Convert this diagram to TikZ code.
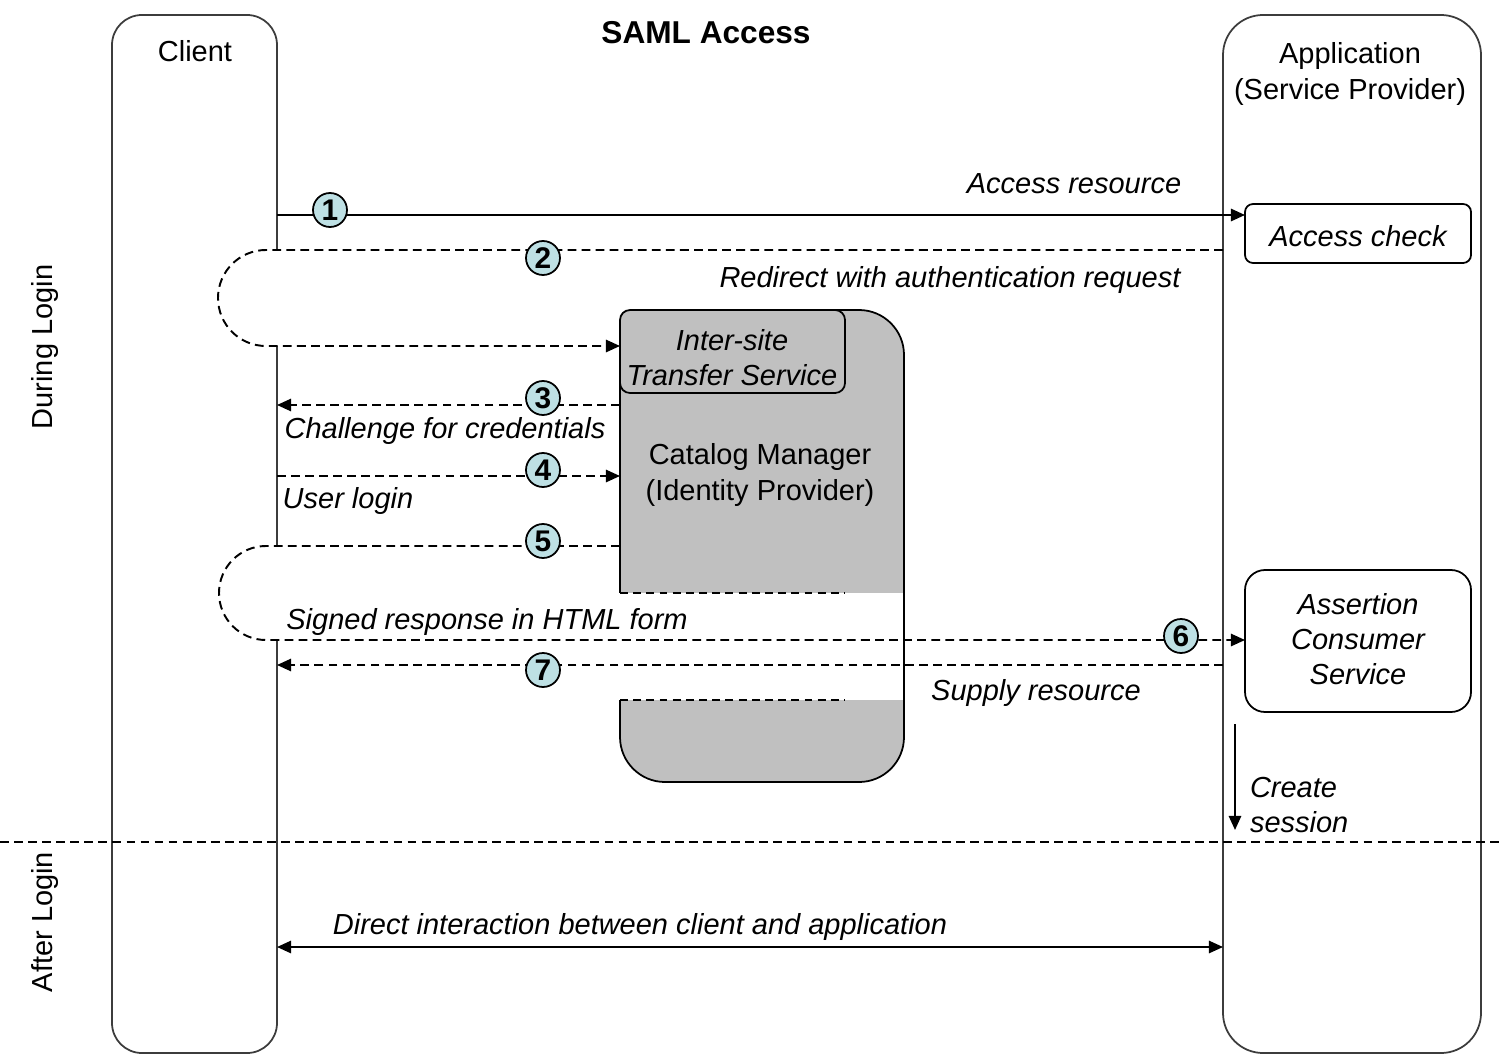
\documentclass[tikz,border=0pt]{standalone}
\usepackage{fontspec}
\setmainfont{Liberation Sans}
\usetikzlibrary{arrows.meta}

\definecolor{numfill}{RGB}{190,224,228}
\definecolor{idpgray}{RGB}{192,192,192}
\definecolor{edge}{RGB}{60,60,60}

\begin{document}
\begin{tikzpicture}[x=0.2mm,y=-0.2mm,>={Triangle[length=8pt,width=7pt]}]
\tikzstyle{every node}=[inner sep=0pt,outer sep=0pt,font=\fontsize{16.5}{20}\selectfont]
\tikzstyle{lane}=[draw=edge,line width=1pt,rectangle,minimum height=207.6mm]
\tikzstyle{proc}=[draw,line width=1pt,rectangle,minimum width=45.2mm,align=center,font=\fontsize{16.5}{20}\selectfont\itshape]
\tikzstyle{lbl}=[font=\fontsize{16.5}{20}\selectfont\itshape]
\tikzstyle{num}=[circle,draw,line width=1pt,fill=numfill,minimum size=6.8mm,font=\fontsize{17}{20}\selectfont\bfseries]
\tikzstyle{msg}=[line width=1.1pt,dash pattern=on 5pt off 3pt]
\useasboundingbox (0,0) rectangle (1500,1055);
% lifelines
\node[lane,rounded corners=6mm,minimum width=33mm](client) at (194.5,534) {};
\node[lane,rounded corners=8mm,minimum width=51.6mm](app) at (1352,534) {};
\node(clientt) at (195,51) {Client};
\node[align=center](appt) at (1350,74) {Application\\(Service Provider)};
\node[font=\fontsize{18}{20}\selectfont\bfseries](title) at (706,33) {SAML Access};
\node[rotate=90](during) at (45,347) {During Login};
\node[rotate=90](after) at (45,922) {After Login};
% identity provider
\node[draw,line width=1pt,fill=idpgray,rounded corners=9mm,minimum width=56.8mm,minimum height=94.4mm](idp) at (762,546) {};
\node[proc,fill=idpgray,rounded corners=2mm,minimum width=45mm,minimum height=16.6mm](its) at (732.5,351.5) {};
\node[align=center,font=\fontsize{16.5}{20}\selectfont\itshape](itst) at (732,358) {Inter-site\\Transfer Service};
\node[align=center](idpt) at (760,475) {Catalog Manager\\(Identity Provider)};
\coordinate (cutl) at (620,593);
\coordinate (cutr) at (904,700);
\fill[white] ([xshift=-1pt]cutl) rectangle ([xshift=-0.6pt]cutr);
\draw[line width=0.8pt,dash pattern=on 4.5pt off 3pt] (cutl) -- (845,593);
\draw[line width=0.8pt,dash pattern=on 4.5pt off 3pt] (620,700) -- (845,700);
\draw[line width=0.6pt,dash pattern=on 4pt off 2pt] (904,593) -- (cutr);
% service provider boxes
\node[proc,rounded corners=1.6mm,minimum height=11.8mm](acheck) at (1358,233.5) {};
\node[lbl](acheckt) at (1358,236) {Access check};
\node[proc,rounded corners=4mm,minimum height=28.4mm](acs) at (1358,641) {};
\node[lbl,align=center](acst) at (1358,639) {Assertion\\Consumer\\Service};
% message levels
\coordinate (m1) at (277,215);
\coordinate (m2) at (1223,250);
\coordinate (m2a) at (266,250);
\coordinate (m2b) at (277,346);
\coordinate (m3) at (620,405);
\coordinate (m4) at (277,476);
\coordinate (m5) at (620,546);
\coordinate (m5a) at (266,546);
\coordinate (m6) at (277,640);
\coordinate (m7) at (1223,665);
\coordinate (cs) at (1235,724);
\coordinate (ce) at (1235,830);
\coordinate (dl) at (0,842);
\coordinate (dr) at (1500,842);
\coordinate (d8) at (277,947);
% messages
\draw[->,line width=1.1pt] (m1) -- (acheck.west |- m1);
\fill[white] (278,250) -- (m2a) arc[start angle=90,end angle=270,radius=9.6mm] -- (278,346) -- cycle;
\draw[msg,->] (m2) -- (m2a) arc[start angle=90,end angle=270,radius=9.6mm] -- (m2b) -- (idp.west |- m2b);
\draw[msg,->] (m3) -- (client.east |- m3);
\draw[msg,->] (m4) -- (idp.west |- m4);
\fill[white] (278,546) -- (m5a) arc[start angle=90,end angle=270,radius=9.4mm] -- (278,640) -- cycle;
\draw[msg,->] (m5) -- (m5a) arc[start angle=90,end angle=270,radius=9.4mm] -- (m6) -- (acs.west |- m6);
\draw[msg,->] (m7) -- (client.east |- m7);
\draw[->,line width=1.1pt] (cs) -- (ce);
\draw[line width=1.1pt,dash pattern=on 5pt off 3pt] (dl) -- (dr);
\draw[<->,line width=1.1pt] (d8) -- (app.west |- d8);
% numbers
\node[num](n1) at (330,210) {1};
\node[num](n2) at (543,258) {2};
\node[num](n3) at (543,398) {3};
\node[num](n4) at (543,470) {4};
\node[num](n5) at (543,541) {5};
\node[num](n6) at (1181,636) {6};
\node[num](n7) at (543,670) {7};
% labels
\node[lbl](l1) at (1074,184) {Access resource};
\node[lbl](l2) at (950,280) {Redirect with authentication request};
\node[lbl](l3) at (445,431) {Challenge for credentials};
\node[lbl](l4) at (348,501) {User login};
\node[lbl](l5) at (487,622) {Signed response in HTML form};
\node[lbl](l7) at (1036,693) {Supply resource};
\node[lbl,align=left,anchor=west](l8) at (1250,805) {Create\\session};
\node[lbl](l9) at (640,927) {Direct interaction between client and application};
\end{tikzpicture}
\end{document}
